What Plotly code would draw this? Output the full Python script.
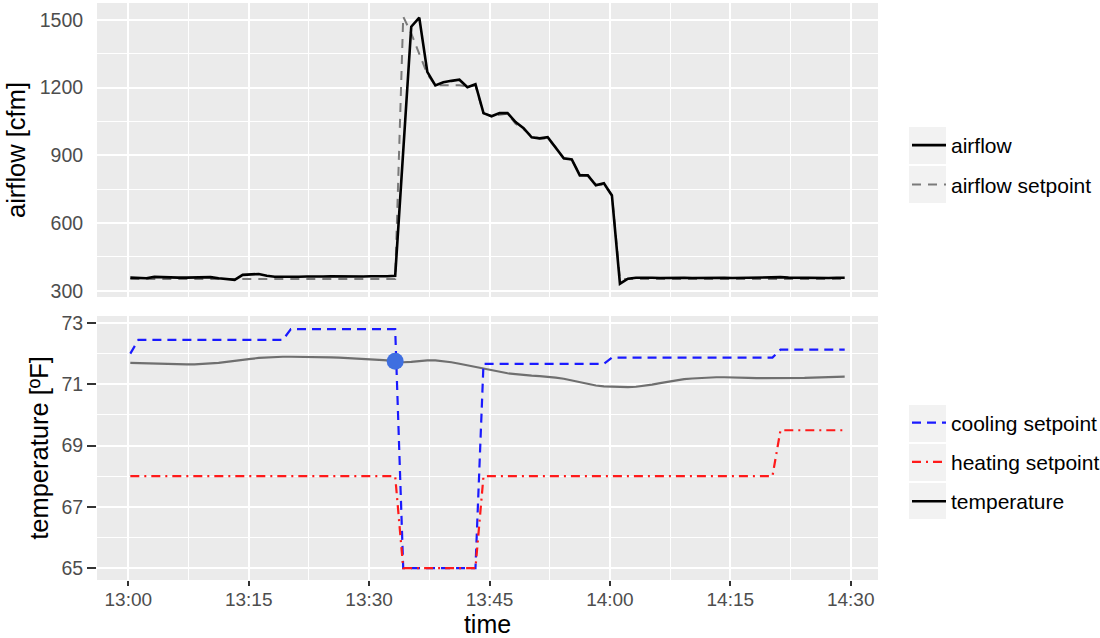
import pandas as pd
import plotly.graph_objects as go
from plotly.subplots import make_subplots

DAY = "2017-06-01 "

# ---------------- data ----------------
sample_times = pd.date_range(DAY + "13:00:15", periods=90, freq="60s")

airflow = [358, 357, 355, 361, 359, 358, 358, 358, 358, 358,
           360, 355, 350, 348, 370, 372, 374, 366, 362, 362,
           361, 362, 363, 362, 363, 364, 363, 362, 364, 363,
           364, 363, 364, 366, 945, 1470, 1510, 1270, 1210, 1224,
           1230, 1235, 1202, 1215, 1087, 1073, 1087, 1087, 1047, 1020,
           980, 975, 980, 931, 887, 882, 811, 811, 767, 776,
           722, 331, 353, 357, 358, 357, 356, 357, 358, 357,
           356, 357, 358, 357, 357, 356, 357, 358, 357, 358,
           359, 360, 358, 357, 358, 356, 357, 356, 357, 357]

airflow_sp_time = ["13:00:15", "13:33:15", "13:34:15", "13:35:15", "13:36:15",
                   "13:37:15", "13:38:15", "13:41:15", "13:42:15", "13:43:15",
                   "13:44:15", "13:45:15", "13:46:15", "13:47:15", "13:48:15",
                   "13:49:15", "13:50:15", "13:51:15", "13:52:15", "13:53:15",
                   "13:54:15", "13:55:15", "13:56:15", "13:57:15", "13:58:15",
                   "13:59:15", "14:00:15", "14:01:15", "14:29:15"]
airflow_sp = [352, 352, 1515, 1440, 1350,
              1260, 1210, 1210, 1205, 1210,
              1085, 1075, 1080, 1085, 1040,
              1015, 985, 975, 975, 935,
              885, 880, 815, 810, 770,
              770, 725, 352, 352]

temperature = [71.70, 71.69, 71.68, 71.67, 71.66, 71.66, 71.65, 71.65, 71.65, 71.66,
               71.68, 71.70, 71.73, 71.77, 71.80, 71.83, 71.86, 71.88, 71.89, 71.90,
               71.90, 71.90, 71.90, 71.90, 71.89, 71.88, 71.87, 71.86, 71.85, 71.84,
               71.82, 71.80, 71.78, 71.75, 71.72, 71.73, 71.76, 71.78, 71.78, 71.76,
               71.72, 71.67, 71.62, 71.57, 71.52, 71.46, 71.40, 71.36, 71.33, 71.30,
               71.28, 71.27, 71.25, 71.22, 71.18, 71.12, 71.06, 71.00, 70.96, 70.93,
               70.92, 70.91, 70.91, 70.92, 70.95, 70.99, 71.04, 71.09, 71.13, 71.17,
               71.19, 71.21, 71.22, 71.23, 71.23, 71.23, 71.22, 71.21, 71.20, 71.20,
               71.19, 71.19, 71.19, 71.20, 71.21, 71.22, 71.23, 71.24, 71.24, 71.25]

cooling_time = ["13:00:15", "13:01:15", "13:19:15", "13:20:15", "13:33:15", "13:34:15",
                "13:43:15", "13:44:15", "13:59:15", "14:00:15", "14:20:15", "14:21:15",
                "14:29:15"]
cooling_sp = [72.0, 72.45, 72.45, 72.8, 72.8, 65.0,
              65.0, 71.67, 71.67, 71.87, 71.87, 72.13,
              72.13]

heating_time = ["13:00:15", "13:33:15", "13:34:15", "13:43:15", "13:44:15",
                "14:20:15", "14:21:15", "14:29:15"]
heating_sp = [68.0, 68.0, 65.0, 65.0, 68.0,
              68.0, 69.5, 69.5]

marker_time = ["13:33:15"]
marker_temp = [71.75]

x_ticks = ["13:00", "13:15", "13:30", "13:45", "14:00", "14:15", "14:30"]
airflow_ticks = [300, 600, 900, 1200, 1500]
temp_ticks = [65, 67, 69, 71, 73]

# ---------------- figure ----------------
FONT = "Liberation Sans, Arial, sans-serif"
W, H = 1100, 638
ML, MR, MT, MB = 97, 222, 3, 58
PW, PH = W - ML - MR, H - MT - MB
TICK_SIZE = 19.5
TITLE_SIZE = 25.5


def py(pix):
    """pixel row -> paper y"""
    return (H - MB - pix) / PH


def px(pix):
    return (pix - ML) / PW


def ts(t):
    return pd.Timestamp(DAY + t)


fig = make_subplots(rows=2, cols=1, shared_xaxes=True, vertical_spacing=0.02)

fig.add_trace(go.Scatter(x=[ts(t) for t in airflow_sp_time], y=airflow_sp,
                         mode="lines", name="airflow setpoint", legendrank=2,
                         line=dict(color="#7a7a7a", width=2, dash="9px,7px"),
                         legendgroup="b", legend="legend"), row=1, col=1)
fig.add_trace(go.Scatter(x=sample_times, y=airflow, mode="lines", name="airflow",
                         legendrank=1,
                         line=dict(color="black", width=2.6), legendgroup="a",
                         legend="legend"), row=1, col=1)

fig.add_trace(go.Scatter(x=sample_times, y=temperature, mode="lines", showlegend=False,
                         line=dict(color="#6f6f6f", width=2.2)), row=2, col=1)
fig.add_trace(go.Scatter(x=[ts(t) for t in cooling_time], y=cooling_sp,
                         mode="lines", name="cooling setpoint", legendrank=1,
                         line=dict(color="#1a1aff", width=2.2, dash="9px,6px"),
                         legendgroup="c", legend="legend2"), row=2, col=1)
fig.add_trace(go.Scatter(x=[ts(t) for t in heating_time], y=heating_sp,
                         mode="lines", name="heating setpoint", legendrank=2,
                         line=dict(color="#ff1a1a", width=2.2, dash="9px,5px,2px,5px"),
                         legendgroup="d", legend="legend2"), row=2, col=1)
fig.add_trace(go.Scatter(x=[None], y=[None], mode="lines", name="temperature",
                         legendrank=3,
                         line=dict(color="black", width=2.6),
                         legendgroup="e", legend="legend2"), row=2, col=1)
fig.add_trace(go.Scatter(x=[ts(t) for t in marker_time], y=marker_temp,
                         mode="markers", showlegend=False,
                         marker=dict(color="#3f6fe0", size=17)), row=2, col=1)

xrange = [ts("12:56:06"), ts("14:33:24")]
tickvals_x = [ts(t) for t in x_ticks]

common_x = dict(range=xrange, tickvals=tickvals_x, ticktext=x_ticks,
                showgrid=True, gridcolor="white", gridwidth=1.7, zeroline=False,
                showline=False,
                minor=dict(dtick=450000, tick0=DAY + "13:00", showgrid=True,
                           gridcolor="white", gridwidth=0.8, ticks=""))
fig.update_xaxes(**common_x)
fig.update_xaxes(showticklabels=False, ticks="", row=1, col=1)
fig.update_xaxes(ticks="outside", ticklen=5, tickwidth=1.5, tickcolor="#333333",
                 ticklabelstandoff=-3,
                 tickfont=dict(size=19, color="#4d4d4d", family=FONT),
                 title=dict(text="time", font=dict(size=25, color="black", family=FONT),
                            standoff=5),
                 row=2, col=1)

fig.update_yaxes(range=[272, 1575], tickvals=airflow_ticks, ticks="outside", ticklen=9,
                 tickcolor="rgba(0,0,0,0)",
                 tickfont=dict(size=TICK_SIZE, color="#4d4d4d", family=FONT),
                 showgrid=True, gridcolor="white", gridwidth=1.7, zeroline=False,
                 minor=dict(dtick=150, tick0=0, showgrid=True, gridcolor="white",
                            gridwidth=0.8, ticks=""),
                 title=dict(text="airflow [cfm]", font=dict(size=TITLE_SIZE, color="black", family=FONT),
                            standoff=6),
                 row=1, col=1)
fig.update_yaxes(range=[64.61, 73.23], tickvals=temp_ticks, ticks="outside", ticklen=9,
                 tickwidth=1.5, tickcolor="#333333",
                 tickfont=dict(size=TICK_SIZE, color="#4d4d4d", family=FONT),
                 showgrid=True, gridcolor="white", gridwidth=1.7, zeroline=False,
                 minor=dict(dtick=1, tick0=65, showgrid=True, gridcolor="white",
                            gridwidth=0.8, ticks=""),
                 title=dict(text="temperature [ºF]", font=dict(size=TITLE_SIZE, color="black", family=FONT),
                            standoff=5),
                 row=2, col=1)

fig.update_layout(
    xaxis=dict(domain=[0, 1]), xaxis2=dict(domain=[0, 1]),
    yaxis=dict(domain=[py(297), 1.0]),
    yaxis2=dict(domain=[0.0, py(316)]),
)

# legend key backgrounds (ggplot style)
key_boxes = [(127, 164), (166, 203), (405, 442), (444, 481), (483, 519)]
for (top, bot) in key_boxes:
    fig.add_shape(type="rect", xref="paper", yref="paper",
                  x0=px(909), x1=px(946), y0=py(bot), y1=py(top),
                  fillcolor="#f2f2f2", line=dict(width=0), layer="below")

legend_common = dict(font=dict(size=21, color="black", family=FONT),
                     bgcolor="rgba(0,0,0,0)", tracegroupgap=9,
                     xanchor="left", yanchor="middle", itemwidth=34,
                     traceorder="grouped")
fig.update_layout(
    legend=dict(x=px(907), y=py(165), **legend_common),
    legend2=dict(x=px(907), y=py(462), **legend_common),
)

fig.update_layout(
    width=W, height=H,
    margin=dict(l=ML, r=MR, t=MT, b=MB, autoexpand=False),
    paper_bgcolor="white", plot_bgcolor="#ebebeb",
    font=dict(family=FONT),
    showlegend=True,
)

fig.write_html("out.html")
